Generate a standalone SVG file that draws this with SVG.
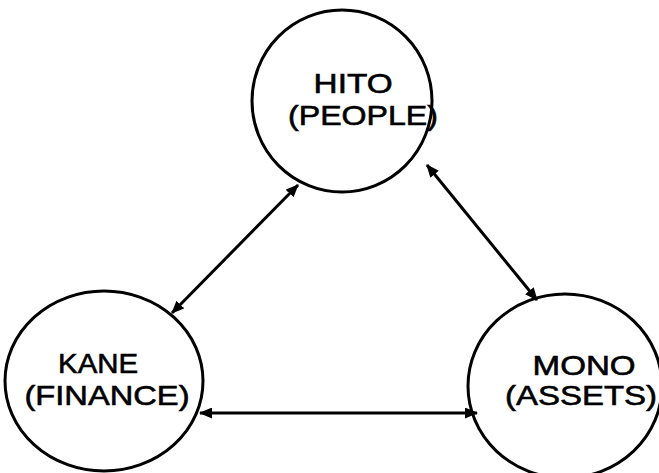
<svg xmlns="http://www.w3.org/2000/svg" width="659" height="473" viewBox="0 0 659 473">
  <defs>
    <marker id="head" viewBox="0 0 13 11" refX="12" refY="5.5" markerWidth="13" markerHeight="11" markerUnits="userSpaceOnUse" orient="auto-start-reverse">
      <path d="M0,0 L13,5.5 L0,11 Z" fill="#000"/>
    </marker>
  </defs>
  <style>
    .node ellipse { fill: #fff; stroke: #000; stroke-width: 3; }
    .node text { font-family: "Liberation Sans", Arial, sans-serif; font-size: 28px; fill: #000; text-anchor: middle; stroke: #000; stroke-width: 0.6; }
    .edge { stroke: #000; stroke-width: 3; fill: none; marker-start: url(#head); marker-end: url(#head); }
  </style>
  <rect width="659" height="473" fill="#fff"/>

  <g id="hito" class="node">
    <ellipse cx="342" cy="101" rx="90" ry="91"/>
    <text>
      <tspan x="357" y="93" textLength="79" lengthAdjust="spacingAndGlyphs">HITO</tspan>
      <tspan x="363" y="125" textLength="150" lengthAdjust="spacingAndGlyphs">(PEOPLE)</tspan>
    </text>
  </g>

  <g id="kane" class="node">
    <ellipse cx="104" cy="381" rx="99" ry="90"/>
    <text>
      <tspan x="102" y="373" textLength="80" lengthAdjust="spacingAndGlyphs">KANE</tspan>
      <tspan x="107" y="405" textLength="165" lengthAdjust="spacingAndGlyphs">(FINANCE)</tspan>
    </text>
  </g>

  <g id="mono" class="node">
    <ellipse cx="565" cy="386" rx="97" ry="92"/>
    <text>
      <tspan x="588" y="375" textLength="103" lengthAdjust="spacingAndGlyphs">MONO</tspan>
      <tspan x="581" y="405" textLength="152" lengthAdjust="spacingAndGlyphs">(ASSETS)</tspan>
    </text>
  </g>

  <g id="connectors">
    <line class="edge" x1="298" y1="185" x2="172" y2="313"/>
    <line class="edge" x1="427" y1="165" x2="537" y2="300"/>
    <line class="edge" x1="200" y1="413" x2="477" y2="413"/>
  </g>
</svg>
